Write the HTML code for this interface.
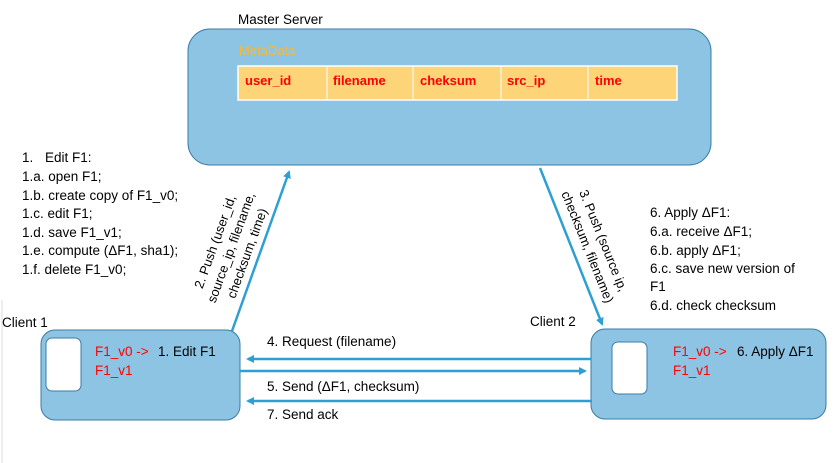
<!DOCTYPE html>
<html><head><meta charset="utf-8"><style>
html,body{margin:0;padding:0;background:#fff;}
svg{display:block;font-family:"Liberation Sans",sans-serif;}
</style></head><body>
<svg width="840" height="463" viewBox="0 0 840 463" xmlns="http://www.w3.org/2000/svg">
<defs>
<marker id="ah" markerWidth="8" markerHeight="8" refX="6" refY="4" orient="auto" markerUnits="userSpaceOnUse">
<path d="M0,0 L8,4 L0,8 Z" fill="#2e9fd4"/></marker>
</defs>
<line x1="2" y1="300" x2="2" y2="463" stroke="#ddd" stroke-width="1"/>
<text x="238" y="24" font-size="13.5" fill="#000">Master Server</text>
<rect x="188" y="29" width="523" height="136" rx="22" fill="#8ec4e3" stroke="#3a7ca5" stroke-width="1"/>
<text x="239" y="55" font-size="13" fill="#f5b93a">MetaData</text>
<rect x="238" y="66" width="439" height="34" fill="#fed479" stroke="#fff" stroke-width="1.5"/>
<g stroke="#fff" stroke-width="1"><line x1="327" y1="66" x2="327" y2="100"/><line x1="413" y1="66" x2="413" y2="100"/><line x1="501" y1="66" x2="501" y2="100"/><line x1="588" y1="66" x2="588" y2="100"/></g>
<g font-size="13" font-weight="bold" fill="#f00">
<text x="245" y="85">user_id</text><text x="333" y="85">filename</text><text x="420" y="85">cheksum</text><text x="507" y="85">src_ip</text><text x="595" y="85">time</text></g>

<g font-size="13.5" fill="#000">
<text x="22" y="162">1.</text><text x="45" y="162">Edit F1:</text>
<text x="22" y="181">1.a. open F1;</text>
<text x="22" y="200">1.b. create copy of F1_v0;</text>
<text x="22" y="218">1.c. edit F1;</text>
<text x="22" y="237">1.d. save F1_v1;</text>
<text x="22" y="255">1.e. compute (ΔF1, sha1);</text>
<text x="22" y="274">1.f. delete F1_v0;</text>
<text x="650" y="217">6. Apply ΔF1:</text>
<text x="650" y="236">6.a. receive ΔF1;</text>
<text x="650" y="255">6.b. apply ΔF1;</text>
<text x="650" y="273">6.c. save new version of</text>
<text x="650" y="291">F1</text>
<text x="650" y="310">6.d. check checksum</text>
<text x="2" y="327">Client 1</text>
<text x="530" y="326">Client 2</text>
</g>

<line x1="232" y1="331" x2="289" y2="172" stroke="#2e9fd4" stroke-width="2.5" marker-end="url(#ah)"/>
<line x1="540" y1="168" x2="602" y2="324" stroke="#2e9fd4" stroke-width="2.5" marker-end="url(#ah)"/>

<g font-size="13" fill="#000" text-anchor="middle" transform="translate(238,250) rotate(-70)">
<text x="0" y="-20">2. Push (user_id,</text>
<text x="0" y="-3">source_ip, filename,</text>
<text x="0" y="14">checksum, time)</text>
</g>
<g font-size="13" fill="#000" text-anchor="middle" transform="translate(590,246) rotate(68)">
<text x="0" y="-10">3. Push (source ip,</text>
<text x="0" y="7">checksum, filename)</text>
</g>

<rect x="41" y="330" width="199" height="90" rx="14" fill="#8ec4e3" stroke="#3a7ca5" stroke-width="1"/>
<rect x="46" y="338" width="35" height="53" rx="6" fill="#fff" stroke="#3a7ca5" stroke-width="1"/>
<text x="95" y="356" font-size="13.5" fill="#f00">F1_v0 -&gt;</text>
<text x="158" y="356" font-size="13.5" fill="#000">1. Edit F1</text>
<text x="95" y="375" font-size="13.5" fill="#f00">F1_v1</text>

<rect x="591" y="329" width="235" height="90" rx="14" fill="#8ec4e3" stroke="#3a7ca5" stroke-width="1"/>
<rect x="612" y="342" width="35" height="52" rx="6" fill="#fff" stroke="#3a7ca5" stroke-width="1"/>
<text x="673" y="356" font-size="13.5" fill="#f00">F1_v0 -&gt;</text>
<text x="737" y="356" font-size="13.5" fill="#000">6. Apply ΔF1</text>
<text x="673" y="375" font-size="13.5" fill="#f00">F1_v1</text>

<line x1="591" y1="359" x2="248" y2="359" stroke="#2e9fd4" stroke-width="2.5" marker-end="url(#ah)"/>
<line x1="240" y1="371" x2="585" y2="371" stroke="#2e9fd4" stroke-width="2.5" marker-end="url(#ah)"/>
<line x1="592" y1="401" x2="248" y2="401" stroke="#2e9fd4" stroke-width="2.5" marker-end="url(#ah)"/>
<g font-size="13.5" fill="#000">
<text x="267" y="346">4. Request (filename)</text>
<text x="267" y="391">5. Send (ΔF1, checksum)</text>
<text x="267" y="419">7. Send ack</text>
</g>
</svg>
</body></html>
